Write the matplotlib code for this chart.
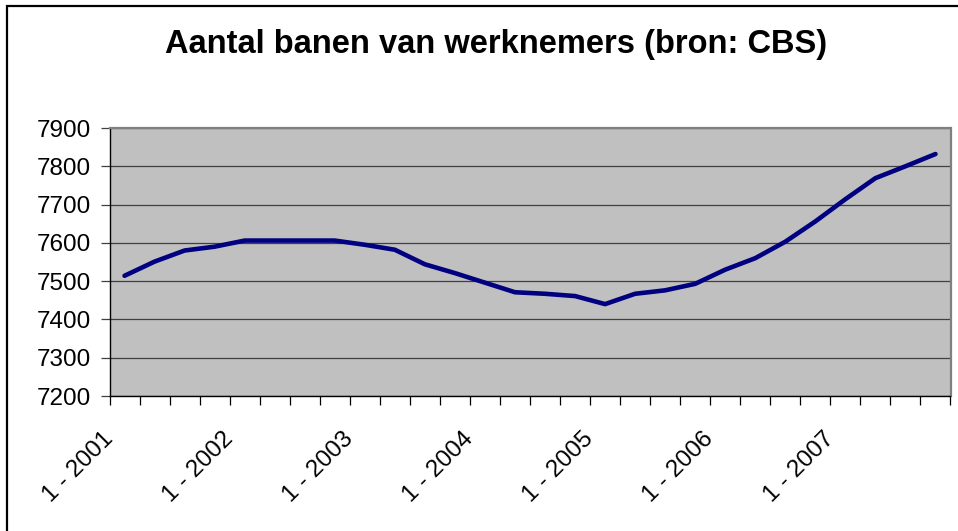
import matplotlib
matplotlib.use("Agg")
import matplotlib.pyplot as plt
import matplotlib.transforms as mtransforms
from matplotlib.patches import Rectangle
import numpy as np

plt.rcParams['font.family'] = ['Liberation Sans', 'DejaVu Sans']

title = "Aantal banen van werknemers (bron: CBS)"
years = [2001, 2002, 2003, 2004, 2005, 2006, 2007]
quarters = [f"{q} - {y}" for y in years for q in (1, 2, 3, 4)]
values = [7514, 7551, 7580, 7590, 7606, 7606, 7606, 7606,
          7595, 7582, 7544, 7521, 7496, 7471, 7467, 7461,
          7440, 7467, 7476, 7493, 7530, 7560, 7603, 7656,
          7714, 7769, 7800, 7832]
yticks = [7200, 7300, 7400, 7500, 7600, 7700, 7800, 7900]

W, H = 958, 531
fig = plt.figure(figsize=(W / 100, H / 100), dpi=100)
fig.patch.set_facecolor('white')

# outer chart border (left and top visible, rest cropped)
fig.add_artist(Rectangle((7 / W, -0.1), 1.2, 1 - 6 / H + 0.1, transform=fig.transFigure,
                         fill=False, edgecolor='black', linewidth=1.6))

ax = fig.add_axes([109.5 / W, 1 - 396 / H, (950.5 - 109.5) / W, (396 - 128) / H])
ax.set_facecolor('#C0C0C0')

x = np.arange(len(values))
ax.plot(x, values, color='#000080', linewidth=3.3, solid_capstyle='round',
        solid_joinstyle='round', zorder=3)

ax.set_xlim(-0.5, len(values) - 0.5)
ax.set_ylim(yticks[0], yticks[-1])
ax.set_yticks(yticks)
ax.set_yticklabels([str(v) for v in yticks])
ax.yaxis.grid(True, color='#404040', linewidth=0.9)
ax.set_axisbelow(True)

ax.tick_params(axis='y', direction='out', length=6.2, width=0.9, color='#404040',
               labelsize=17.5, pad=7)

major = x[::4]
ax.set_xticks(major)
ax.set_xticklabels([quarters[i] for i in major], rotation=45, ha='right',
                   rotation_mode='default', fontsize=17.5)
ax.set_xticks(np.arange(len(values) + 1) - 0.5, minor=True)
ax.tick_params(axis='x', which='major', length=0, pad=23)
ax.tick_params(axis='x', which='minor', direction='out', length=6.5, width=0.9,
               color='black')

offset = mtransforms.ScaledTranslation(-7 / 100, 0, fig.dpi_scale_trans)
for lbl in ax.get_xticklabels():
    lbl.set_transform(lbl.get_transform() + offset)

for s in ('left', 'bottom'):
    ax.spines[s].set_color('black')
    ax.spines[s].set_linewidth(1.0)
for s in ('top', 'right'):
    ax.spines[s].set_color('#808080')
    ax.spines[s].set_linewidth(1.6)

fig.text(496 / W, 1 - 45 / H, title, ha='center', va='center', fontsize=23.5,
         fontweight='bold')

fig.savefig('out.png', dpi=100)
